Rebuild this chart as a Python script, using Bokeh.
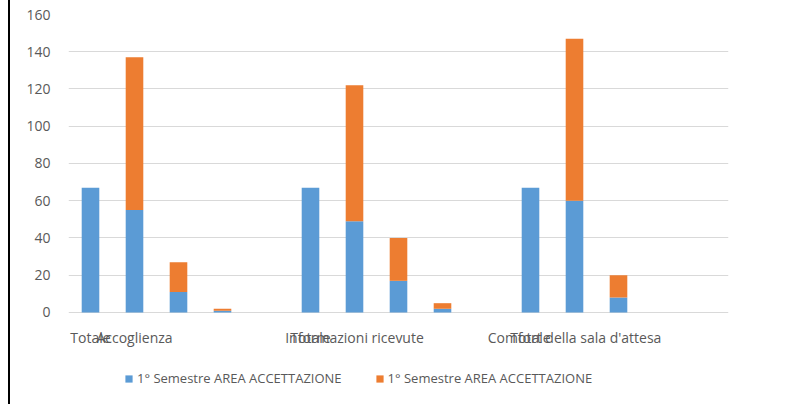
from bokeh.plotting import figure
from bokeh.models import (ColumnDataSource, Range1d, FixedTicker, Legend, LegendItem)
from bokeh.embed import file_html
from bokeh.resources import INLINE

# ---- data ----
labels = ["Totale", "Accoglienza", "", "", "",
          "Totale", "Informazioni ricevute", "", "", "",
          "Totale", "Comfort della sala d'attesa", "", "", ""]
serie_1 = [67, 55, 11, 1, 0, 67, 49, 17, 2, 0, 67, 60, 8, 0, 0]
serie_2 = [0, 82, 16, 1, 0, 0, 73, 23, 3, 0, 0, 87, 12, 0, 0]
series_names = ["1° Semestre AREA ACCETTAZIONE", "1° Semestre AREA ACCETTAZIONE"]
y_ticks = [0, 20, 40, 60, 80, 100, 120, 140, 160]

FONT = "Open Sans"
TXT = "#595959"
BLUE = "#5B9BD5"
ORANGE = "#ED7D31"

xs = list(range(len(labels)))
src = ColumnDataSource(dict(x=xs, s1=serie_1, s2=serie_2))

# frame extends below 0 to leave room for the category labels and the legend
p = figure(width=790, height=404, output_backend="svg", toolbar_location=None,
           x_range=Range1d(-0.5, len(labels) - 0.5), y_range=Range1d(-49.4, 160),
           min_border_left=58, min_border_right=72, min_border_top=14, min_border_bottom=0)
p.styles = {"border-left": "2px solid #000000", "margin-left": "8px"}

rs = p.vbar_stack(["s1", "s2"], x="x", width=0.4, color=[BLUE, ORANGE],
                  line_color=None, source=src)

p.outline_line_color = None
p.background_fill_color = "white"
p.border_fill_color = "white"

p.xgrid.grid_line_color = None
p.ygrid.grid_line_color = "#D9D9D9"
p.ygrid.grid_line_width = 1.2
p.yaxis.ticker = FixedTicker(ticks=y_ticks)
p.xaxis.ticker = FixedTicker(ticks=xs)
p.xaxis.major_label_overrides = {i: lab for i, lab in enumerate(labels)}
p.xaxis.fixed_location = 0

for ax in (p.xaxis[0], p.yaxis[0]):
    ax.axis_line_color = None
    ax.major_tick_line_color = None
    ax.minor_tick_line_color = None
    ax.major_tick_out = 0
    ax.major_tick_in = 0
    ax.major_label_text_font = FONT
    ax.major_label_text_font_size = "14px"
    ax.major_label_text_color = TXT
p.yaxis.major_label_standoff = 18
p.xaxis.major_label_standoff = 16

items = [LegendItem(label=series_names[0], renderers=[rs[0]]),
         LegendItem(label=series_names[1], renderers=[rs[1]])]
leg = Legend(items=items, orientation="horizontal", location=(56, 17),
             label_text_font=FONT, label_text_font_size="13px", label_text_color=TXT,
             glyph_width=9, glyph_height=9, label_standoff=4, spacing=33,
             padding=0, margin=0, border_line_color=None, background_fill_alpha=0)
p.add_layout(leg, "center")

open("out.html", "w").write(file_html(p, INLINE))
